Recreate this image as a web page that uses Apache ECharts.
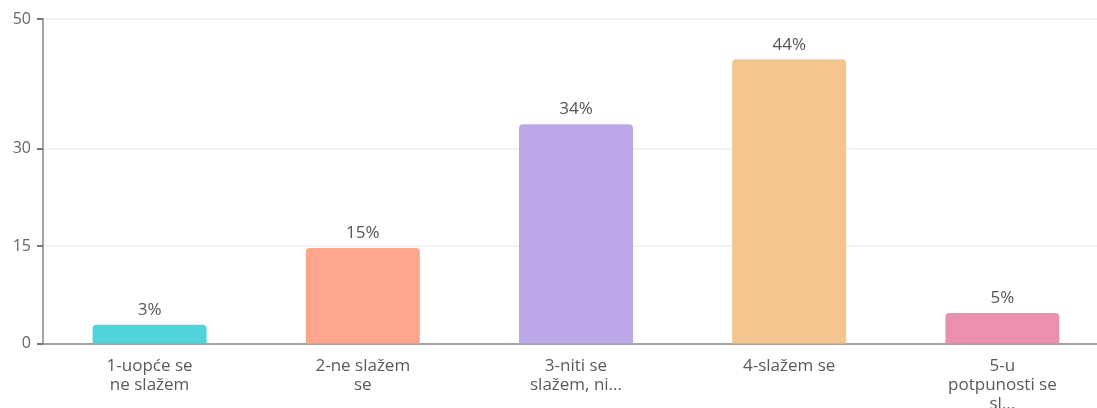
<!DOCTYPE html>
<html>
<head>
<meta charset="utf-8">
<style>
html,body{margin:0;padding:0;background:#fff;}
#chart{width:1097px;height:408px;}
</style>
<script src="https://cdn.jsdelivr.net/npm/echarts@6/dist/echarts.min.js"></script>
</head>
<body>
<div id="chart"></div>
<script>
var categories = ["1-uopće se\nne slažem", "2-ne slažem\nse", "3-niti se\nslažem, ni...", "4-slažem se", "5-u\npotpunosti se\nsl..."];
var values = [2.9, 14.7, 33.8, 43.8, 4.7];
var valueLabels = ["3%", "15%", "34%", "44%", "5%"];
var barColors = ["#52d3d9", "#fda68c", "#bca8e8", "#f4c58e", "#ea8fae"];
var yTicks = [0, 15, 30, 50];

var chart = echarts.init(document.getElementById('chart'));
var font = '"Open Sans", sans-serif';
chart.setOption({
  animation: false,
  grid: {left: 43, width: 1066, top: 19, bottom: 64.5, containLabel: false, outerBoundsMode: 'none'},
  xAxis: {
    type: 'category',
    data: categories,
    axisLine: {lineStyle: {color: '#a3a3a3', width: 2}},
    axisTick: {alignWithLabel: true, length: 6, lineStyle: {color: '#777', width: 2}},
    axisLabel: {color: '#5a5a5a', fontSize: 17, fontFamily: font, lineHeight: 19, margin: 13, interval: 0}
  },
  yAxis: {
    type: 'value',
    min: 0, max: 50,
    axisLine: {show: true, lineStyle: {color: '#a3a3a3', width: 2}},
    axisTick: {show: true, length: 6, customValues: yTicks, lineStyle: {color: '#777', width: 2}},
    axisLabel: {color: '#666', fontSize: 16, fontFamily: font, margin: 12, customValues: yTicks},
    splitLine: {show: true, lineStyle: {color: '#efefef', width: 1.5}}
  },
  series: [{
    type: 'bar',
    barWidth: 114,
    data: values.map(function (v, i) {
      return {value: v, itemStyle: {color: barColors[i], borderRadius: [4, 4, 0, 0]}};
    }),
    label: {
      show: true, position: 'top', distance: 6,
      color: '#555', fontSize: 17, fontFamily: font,
      formatter: function (p) { return valueLabels[p.dataIndex]; }
    }
  }]
});
</script>
</body>
</html>
